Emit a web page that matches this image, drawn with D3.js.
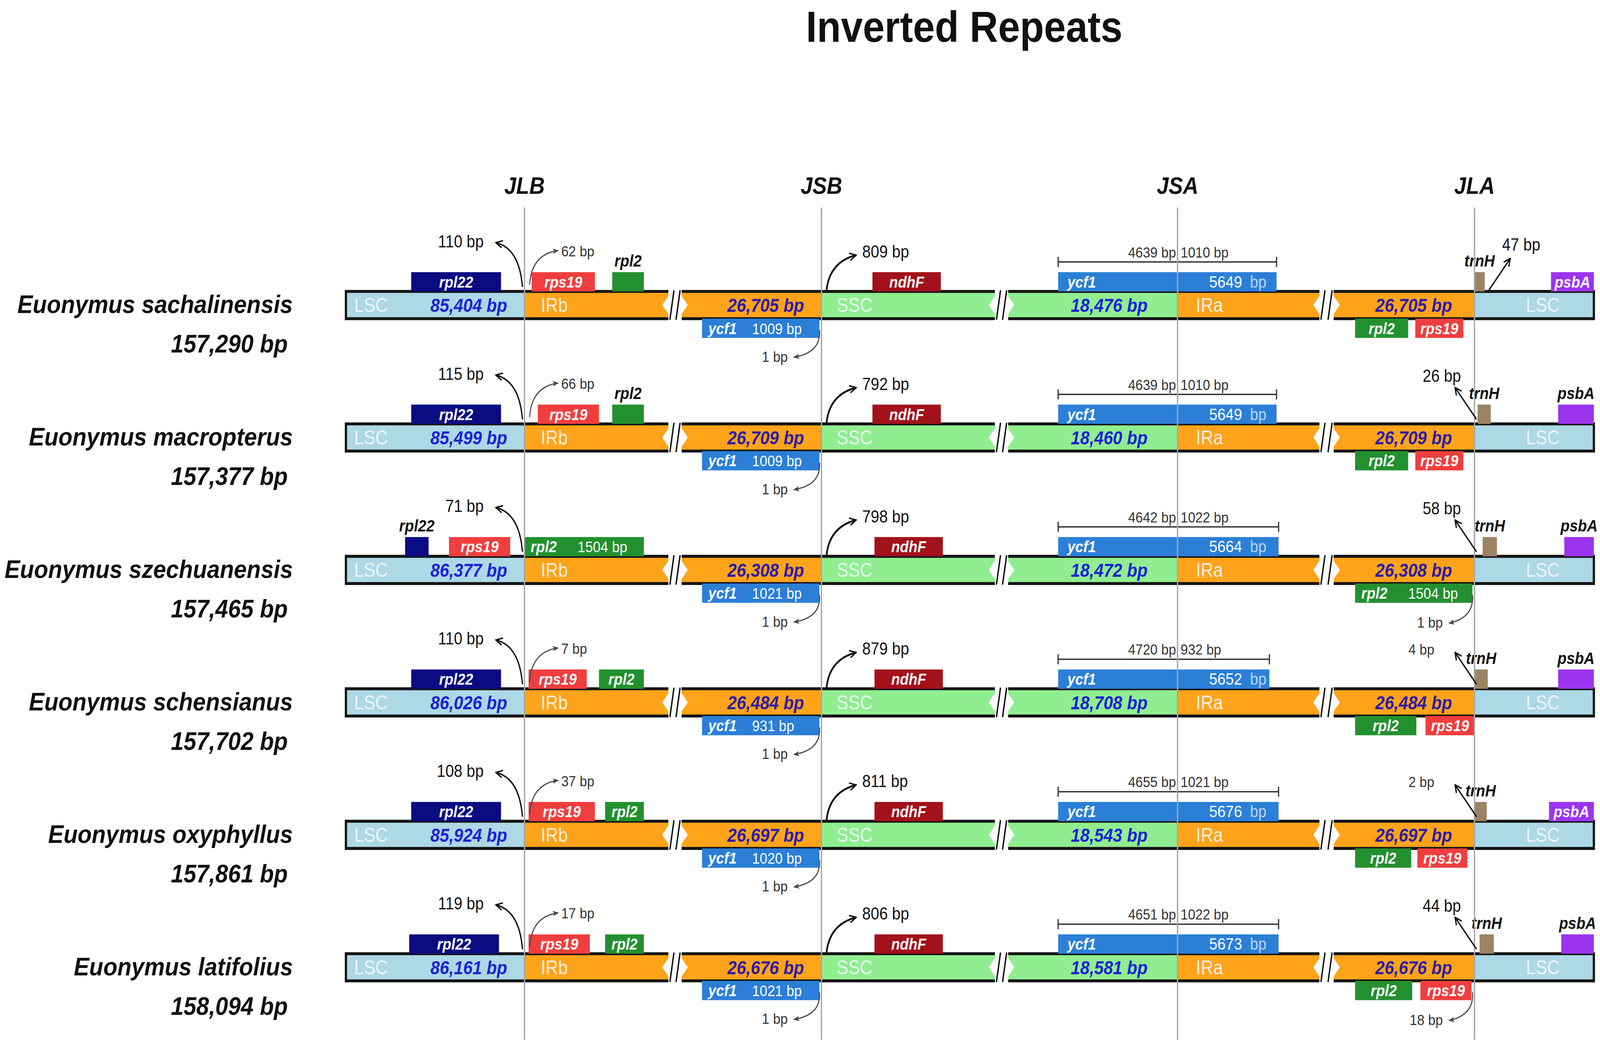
<!DOCTYPE html>
<html>
<head>
<meta charset="utf-8">
<script src="https://cdn.jsdelivr.net/npm/d3@7"></script>
<style>
html,body{margin:0;padding:0;background:#fff;width:100%;height:100%;overflow:hidden;}
#chart{width:100vw;height:100vh;}
svg{display:block;width:100%;height:100%;}
</style>
</head>
<body>
<div id="chart"></div>
<script>
// ---------------- DATA ----------------
const title = "Inverted Repeats";
const junctionNames = ["JLB", "JSB", "JSA", "JLA"];
const species = [
  "Euonymus sachalinensis",
  "Euonymus macropterus",
  "Euonymus szechuanensis",
  "Euonymus schensianus",
  "Euonymus oxyphyllus",
  "Euonymus latifolius"
];
const genomeSize = ["157,290 bp", "157,377 bp", "157,465 bp", "157,702 bp", "157,861 bp", "158,094 bp"];
const lscSize = ["85,404 bp", "85,499 bp", "86,377 bp", "86,026 bp", "85,924 bp", "86,161 bp"];
const irSize = ["26,705 bp", "26,709 bp", "26,308 bp", "26,484 bp", "26,697 bp", "26,676 bp"];
const sscSize = ["18,476 bp", "18,460 bp", "18,472 bp", "18,708 bp", "18,543 bp", "18,581 bp"];

// distances at junctions (bp)
const jlbLeftBp = [110, 115, 71, 110, 108, 119];
const jlbRightBp = [62, 66, null, 7, 37, 17];
const jsbLeftBp = [1, 1, 1, 1, 1, 1];
const jsbRightBp = [809, 792, 798, 879, 811, 806];
const ycf1Short = [1009, 1009, 1021, 931, 1020, 1021];
const ycf1Total = [5649, 5649, 5664, 5652, 5676, 5673];
const ycf1InSSC = [4639, 4639, 4642, 4720, 4655, 4651];
const ycf1InIRa = [1010, 1010, 1022, 932, 1021, 1022];
const jlaBp = [47, 26, 58, 4, 2, 44];
const jlaBelowBp = [null, null, 1, null, null, 18];
const rpl2Len = [null, null, 1504, null, null, null];

// gene coordinates along the schematic track (row, gene, start, end, strand side)
const genes = [
  [0, "rpl22", 64, 152, "up"], [0, "rps19", 182, 244, "up"], [0, "rpl2", 261, 292, "up"],
  [0, "ycf1", 349, 464, "down"], [0, "ndhF", 516, 583, "up"], [0, "ycf1", 698, 912, "up"],
  [0, "rpl2", 989, 1041, "down"], [0, "rps19", 1048, 1095, "down"], [0, "trnH", 1106, 1116, "up"],
  [0, "psbA", 1181, 1223, "up"],

  [1, "rpl22", 64, 152, "up"], [1, "rps19", 188, 248, "up"], [1, "rpl2", 261, 292, "up"],
  [1, "ycf1", 349, 464, "down"], [1, "ndhF", 516, 583, "up"], [1, "ycf1", 698, 912, "up"],
  [1, "rpl2", 989, 1041, "down"], [1, "rps19", 1048, 1095, "down"], [1, "trnH", 1109, 1122, "up"],
  [1, "psbA", 1188, 1223, "up"],

  [2, "rpl22", 58, 81, "up"], [2, "rps19", 101, 161, "up"], [2, "rpl2", 175, 292, "up"],
  [2, "ycf1", 349, 464, "down"], [2, "ndhF", 518, 585, "up"], [2, "ycf1", 698, 914, "up"],
  [2, "rpl2", 989, 1104, "down"], [2, "trnH", 1114, 1128, "up"],
  [2, "psbA", 1194, 1223, "up"],

  [3, "rpl22", 64, 152, "up"], [3, "rps19", 179, 236, "up"], [3, "rpl2", 248, 292, "up"],
  [3, "ycf1", 349, 464, "down"], [3, "ndhF", 518, 585, "up"], [3, "ycf1", 698, 905, "up"],
  [3, "rpl2", 989, 1049, "down"], [3, "rps19", 1058, 1106, "down"], [3, "trnH", 1106, 1119, "up"],
  [3, "psbA", 1188, 1223, "up"],

  [4, "rpl22", 64, 152, "up"], [4, "rps19", 179, 244, "up"], [4, "rpl2", 254, 292, "up"],
  [4, "ycf1", 349, 464, "down"], [4, "ndhF", 518, 585, "up"], [4, "ycf1", 698, 914, "up"],
  [4, "rpl2", 989, 1044, "down"], [4, "rps19", 1050, 1099, "down"], [4, "trnH", 1106, 1118, "up"],
  [4, "psbA", 1179, 1223, "up"],

  [5, "rpl22", 62, 150, "up"], [5, "rps19", 179, 239, "up"], [5, "rpl2", 254, 292, "up"],
  [5, "ycf1", 349, 464, "down"], [5, "ndhF", 518, 585, "up"], [5, "ycf1", 698, 914, "up"],
  [5, "rpl2", 989, 1045, "down"], [5, "rps19", 1053, 1103, "down"], [5, "trnH", 1111, 1125, "up"],
  [5, "psbA", 1191, 1223, "up"]
];
// small upper-side genes that carry their name above the box instead of inside
const labelAbove = [
  [0, "rpl2"], [0, "trnH"], [1, "rpl2"], [1, "trnH"], [1, "psbA"],
  [2, "rpl22"], [2, "trnH"], [2, "psbA"], [3, "trnH"], [3, "psbA"],
  [4, "trnH"], [5, "trnH"], [5, "psbA"]
];

// ---------------- LAYOUT / STYLE ----------------
const VW = 1568, VH = VW * 2669 / 4550;
const FONT = "'Liberation Sans', Arial, Helvetica, sans-serif";
const trackLength = 1223;
const junctionPos = [175, 466, 815, 1106];
const breaks = [[316, 329], [636, 649], [954, 968]];
const regionFill = { LSC: "#add8e6", IR: "#ffa41a", SSC: "#90ee90" };
const geneFill = {
  rpl22: "#0b0b82", rps19: "#f03e3e", rpl2: "#23902f", ndhF: "#a3111a",
  ycf1: "#2b7fd7", trnH: "#9c8463", psbA: "#9b34ef"
};
const BAR = 12, GH = 17;

const svg = d3.select("#chart").append("svg")
  .attr("viewBox", `0 0 ${VW} ${VH}`)
  .attr("preserveAspectRatio", "none")
  .style("font-family", FONT);

svg.append("rect").attr("width", VW).attr("height", VH).attr("fill", "#fff");

const x = d3.scaleLinear().domain([0, trackLength]).range([339, 1562]);
const y = d3.scalePoint().domain(species).range([269, 853]);
const xJ = junctionPos.map(x);

const defs = svg.append("defs");
defs.append("marker").attr("id", "ahB").attr("viewBox", "0 0 10 10")
  .attr("refX", 9).attr("refY", 5).attr("markerWidth", 8).attr("markerHeight", 8)
  .attr("markerUnits", "userSpaceOnUse").attr("orient", "auto")
  .append("path").attr("d", "M1,1 L9,5 L1,9").attr("fill", "none")
  .attr("stroke", "#111").attr("stroke-width", 1.6);
defs.append("marker").attr("id", "ahS").attr("viewBox", "0 0 10 10")
  .attr("refX", 9).attr("refY", 5).attr("markerWidth", 6).attr("markerHeight", 6)
  .attr("markerUnits", "userSpaceOnUse").attr("orient", "auto")
  .append("path").attr("d", "M0,1 L10,5 L0,9 L3,5 Z").attr("fill", "#444");

// title
svg.append("text").attr("x", 945).attr("y", 37).attr("text-anchor", "middle")
  .attr("font-size", 38.5).attr("font-weight", "bold").attr("fill", "#111").text(title);

// junction headers
svg.append("g").selectAll("text").data(junctionNames).join("text")
  .attr("x", (d, i) => xJ[i]).attr("y", 171).attr("text-anchor", "middle")
  .attr("font-size", 21).attr("font-weight", "bold").attr("font-style", "italic")
  .attr("fill", "#111").text(d => d);

// species labels
const sg = svg.append("g");
sg.selectAll("text.name").data(species).join("text").attr("class", "name")
  .attr("x", 287).attr("y", d => y(d) + 7).attr("text-anchor", "end")
  .attr("font-size", 22.6).attr("font-weight", "bold").attr("font-style", "italic")
  .attr("fill", "#111").text(d => d);
sg.selectAll("text.size").data(species).join("text").attr("class", "size")
  .attr("x", 282).attr("y", d => y(d) + 42).attr("text-anchor", "end")
  .attr("font-size", 22.4).attr("font-weight", "bold").attr("font-style", "italic")
  .attr("fill", "#111").text((d, i) => genomeSize[i]);

// bars
const pieces = [
  [0, junctionPos[0], "LSC"], [junctionPos[0], breaks[0][0], "IR"], [breaks[0][1], junctionPos[1], "IR"],
  [junctionPos[1], breaks[1][0], "SSC"], [breaks[1][1], junctionPos[2], "SSC"],
  [junctionPos[2], breaks[2][0], "IR"], [breaks[2][1], junctionPos[3], "IR"],
  [junctionPos[3], trackLength, "LSC"]
];
const bars = svg.append("g");
species.forEach((sp, r) => {
  const c = y(sp);
  const g = bars.append("g");
  g.selectAll("rect").data(pieces).join("rect")
    .attr("x", d => x(d[0])).attr("width", d => x(d[1]) - x(d[0]))
    .attr("y", c - BAR).attr("height", 2 * BAR).attr("fill", d => regionFill[d[2]]);
  g.selectAll("line.top").data(pieces).join("line").attr("class", "top")
    .attr("x1", d => x(d[0])).attr("x2", d => x(d[1]))
    .attr("y1", c - BAR).attr("y2", c - BAR).attr("stroke", "#141414").attr("stroke-width", 2.6);
  g.selectAll("line.bot").data(pieces).join("line").attr("class", "bot")
    .attr("x1", d => x(d[0])).attr("x2", d => x(d[1]))
    .attr("y1", c + BAR).attr("y2", c + BAR).attr("stroke", "#141414").attr("stroke-width", 2.6);
  [0, trackLength].forEach(v => g.append("line")
    .attr("x1", x(v)).attr("x2", x(v)).attr("y1", c - BAR - 1.3).attr("y2", c + BAR + 1.3)
    .attr("stroke", "#141414").attr("stroke-width", 2.2));
  breaks.forEach(b => {
    const a = x(b[0]), e = x(b[1]);
    g.append("path").attr("d", `M${a},${c - 8}L${a - 6},${c}L${a},${c + 8}Z`).attr("fill", "#fff");
    g.append("path").attr("d", `M${e},${c - 8}L${e + 6},${c}L${e},${c + 8}Z`).attr("fill", "#fff");
    g.append("line").attr("x1", a + 1.5).attr("y1", c + BAR + 1).attr("x2", a + 5.5).attr("y2", c - BAR - 1)
      .attr("stroke", "#141414").attr("stroke-width", 1.4);
    g.append("line").attr("x1", e - 5.5).attr("y1", c + BAR + 1).attr("x2", e - 1.5).attr("y2", c - BAR - 1)
      .attr("stroke", "#141414").attr("stroke-width", 1.4);
  });
  const white = (tx, anchor, txt) => g.append("text").attr("x", tx).attr("y", c + 6)
    .attr("text-anchor", anchor).attr("font-size", 17).attr("fill", "#f3f8ff")
    .attr("fill-opacity", 0.92).text(txt);
  white(x(0) + 8, "start", "LSC");
  white(xJ[0] + 16, "start", "IRb");
  white(xJ[1] + 15, "start", "SSC");
  white(xJ[2] + 18, "start", "IRa");
  white(x(1173), "middle", "LSC");
  const sizeT = (tx, anchor, txt, col) => g.append("text").attr("x", tx).attr("y", c + 6)
    .attr("text-anchor", anchor).attr("font-size", 16.5).attr("font-weight", "bold")
    .attr("font-style", "italic").attr("fill", col).text(txt);
  sizeT(xJ[0] - 17, "end", lscSize[r], "#1b22d6");
  sizeT(xJ[1] - 17, "end", irSize[r], "#2e1ca6");
  sizeT(xJ[2] - 67, "middle", sscSize[r], "#1b22d6");
  sizeT(xJ[3] - 22, "end", irSize[r], "#2e1ca6");
});

// genes
const above = new Set(labelAbove.map(d => d[0] + "|" + d[1]));
const gg = svg.append("g");
genes.forEach(([r, name, s, e, side]) => {
  const c = y(species[r]);
  const top = side === "up" ? c - BAR - GH : c + BAR;
  gg.append("rect").attr("x", x(s)).attr("width", x(e) - x(s))
    .attr("y", top).attr("height", GH).attr("fill", geneFill[name]);
  const ty = top + GH / 2 + 5;
  const gText = (tx, anchor, txt, opts = {}) => gg.append("text").attr("x", tx).attr("y", opts.y ?? ty)
    .attr("text-anchor", anchor).attr("font-size", opts.size ?? 14)
    .attr("font-weight", opts.weight ?? "bold").attr("font-style", opts.style ?? "italic")
    .attr("fill", opts.fill ?? "#fff").text(txt);
  if (side === "up" && above.has(r + "|" + name)) {
    gText((x(s) + x(e)) / 2, "middle", name, { y: c - 34, fill: "#111", size: 14.5 });
  } else if (name === "ycf1" && side === "down") {
    gText(x(s) + 6, "start", name);
    gText(x(s) + 49, "start", ycf1Short[r] + " bp", { weight: "normal", style: "normal", size: 13.5 });
  } else if (name === "ycf1") {
    gText(x(s) + 9, "start", name);
    gText(xJ[2] + 31, "start", ycf1Total[r], { weight: "normal", style: "normal", size: 14.5 });
    gText(xJ[2] + 71, "start", "bp", { weight: "normal", style: "normal", size: 14.5, fill: "#bcd6f3" });
  } else if (name === "rpl2" && rpl2Len[r]) {
    gText(x(s) + 6, "start", name);
    gText(x(s) + 52, "start", rpl2Len[r] + " bp", { weight: "normal", style: "normal", size: 13.5 });
  } else {
    gText((x(s) + x(e)) / 2, "middle", name);
  }
});

// ycf1 span rulers at JSA
const rg = svg.append("g").attr("stroke", "#333").attr("stroke-width", 1.2);
genes.filter(d => d[1] === "ycf1" && d[4] === "up").forEach(([r, , s, e]) => {
  const c = y(species[r]), ly = c - 38;
  rg.append("line").attr("x1", x(s)).attr("x2", x(e)).attr("y1", ly).attr("y2", ly);
  [x(s), x(e), xJ[2]].forEach(px => rg.append("line").attr("x1", px).attr("x2", px)
    .attr("y1", ly - 4.5).attr("y2", ly + 4.5));
  svg.append("text").attr("x", xJ[2] - 1.5).attr("y", c - 42).attr("text-anchor", "end")
    .attr("font-size", 13).attr("fill", "#333").text(ycf1InSSC[r] + " bp");
  svg.append("text").attr("x", xJ[2] + 3).attr("y", c - 42).attr("text-anchor", "start")
    .attr("font-size", 13).attr("fill", "#333").text(ycf1InIRa[r] + " bp");
});

// junction lines (drawn over bars)
svg.append("g").selectAll("line").data(xJ).join("line")
  .attr("x1", d => d).attr("x2", d => d).attr("y1", 183).attr("y2", 917)
  .attr("stroke", "#a6a6a6").attr("stroke-width", 1.3);

// arrows
const ag = svg.append("g").attr("fill", "none");
function curve(p0, p1, p2, big, w) {
  const p = d3.path();
  p.moveTo(p0[0], p0[1]);
  if (p2) p.quadraticCurveTo(p1[0], p1[1], p2[0], p2[1]); else p.lineTo(p1[0], p1[1]);
  ag.append("path").attr("d", p.toString())
    .attr("stroke", big ? "#111" : "#444").attr("stroke-width", w ?? (big ? 1.3 : 1))
    .attr("marker-end", big ? "url(#ahB)" : "url(#ahS)");
}
function label(tx, ty, anchor, txt, big) {
  svg.append("text").attr("x", tx).attr("y", ty).attr("text-anchor", anchor)
    .attr("font-size", big ? 15 : 13).attr("fill", big ? "#111" : "#333").text(txt);
}
species.forEach((sp, r) => {
  const c = y(sp);
  const [jlb, jsb, , jla] = xJ;
  curve([jlb - 2, c - 16], [jlb - 5, c - 50], [jlb - 28, c - 55], true);
  label(jlb - 40, c - 51, "end", jlbLeftBp[r] + " bp", true);
  if (jlbRightBp[r] != null) {
    curve([jlb + 5, c - 18], [jlb + 7, c - 45], [jlb + 33, c - 48], false);
    label(jlb + 36, c - 43, "start", jlbRightBp[r] + " bp", false);
  }
  curve([jsb - 2, c + 22], [jsb, c + 42], [jsb - 27, c + 46], false);
  label(jsb - 33, c + 50, "end", jsbLeftBp[r] + " bp", false);
  curve([jsb + 5, c - 13], [jsb + 8, c - 38], [jsb + 34, c - 44], true, 1.7);
  label(jsb + 40, c - 42, "start", jsbRightBp[r] + " bp", true);
  if (r === 0) {
    curve([jla + 14, c - 13], [jla + 35, c - 41], null, true);
    label(jla + 27, c - 48, "start", jlaBp[r] + " bp", true);
  } else {
    curve([jla + 2, c - 16], [jla - 19, c - 44], null, true);
    const big = jlaBp[r] >= 10;
    label(big ? jla - 32 : jla - 52, big ? c - 49 : c - 42, "middle", jlaBp[r] + " bp", big);
  }
  if (jlaBelowBp[r] != null) {
    curve([jla - 2, c + 22], [jla, c + 42], [jla - 25, c + 47], false);
    label(jla - 31, c + 51, "end", jlaBelowBp[r] + " bp", false);
  }
});
</script>
</body>
</html>
